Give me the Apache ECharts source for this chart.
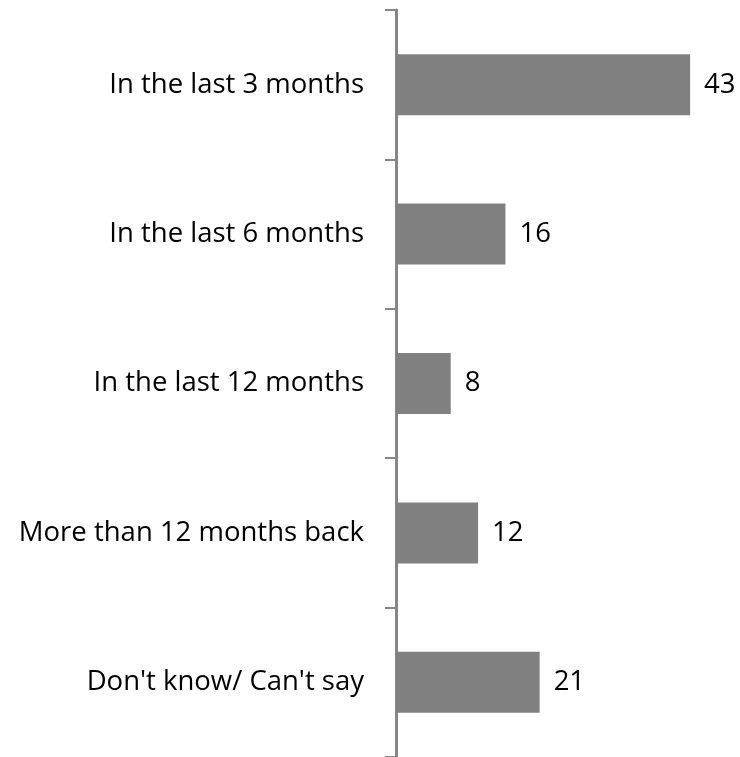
<!DOCTYPE html>
<html>
<head>
<meta charset="utf-8">
<script src="https://cdn.jsdelivr.net/npm/echarts@6/dist/echarts.min.js"></script>
<style>
  html, body { margin: 0; padding: 0; background: #fff; }
  #chart { width: 740px; height: 757px; }
</style>
</head>
<body>
<div id="chart"></div>
<script>
// Survey answers, top to bottom
const categories = [
  'In the last 3 months',
  'In the last 6 months',
  'In the last 12 months',
  'More than 12 months back',
  "Don't know/ Can't say"
];
const values = [43, 16, 8, 12, 21];

const chart = echarts.init(document.getElementById('chart'));
chart.setOption({
  animation: false,
  grid: { left: 396, right: 2, top: 10, bottom: 0, containLabel: false },
  xAxis: {
    type: 'value',
    min: 0,
    max: 50,
    show: false
  },
  yAxis: {
    type: 'category',
    data: categories,
    inverse: true,
    axisLine: { show: true, lineStyle: { color: '#868686', width: 3 } },
    axisTick: { show: true, length: 11, lineStyle: { color: '#868686', width: 2 } },
    axisLabel: {
      margin: 32,
      color: '#000',
      fontFamily: 'Open Sans',
      fontSize: 27.5
    },
    splitLine: { show: false }
  },
  series: [{
    type: 'bar',
    data: values,
    barWidth: 61,
    itemStyle: { color: '#808080' },
    label: {
      show: true,
      position: 'right',
      distance: 14,
      color: '#000',
      fontFamily: 'Open Sans',
      fontSize: 27.5
    }
  }]
});
</script>
</body>
</html>
